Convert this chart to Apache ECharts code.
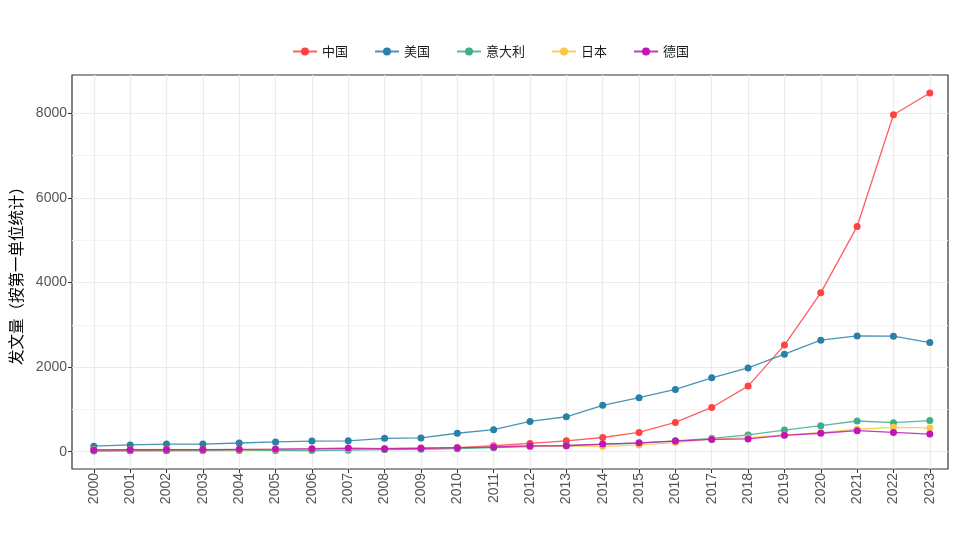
<!DOCTYPE html>
<html><head><meta charset="utf-8">
<script src="https://cdn.jsdelivr.net/npm/echarts@6/dist/echarts.min.js"></script>
<style>html,body{margin:0;padding:0;background:#fff}#c{width:960px;height:540px}</style>
</head><body><div id="c"></div>
<script>
const years = [2000,2001,2002,2003,2004,2005,2006,2007,2008,2009,2010,2011,2012,2013,2014,2015,2016,2017,2018,2019,2020,2021,2022,2023];
const china   = [25,30,30,35,40,45,55,65,55,80,90,140,195,255,335,455,690,1045,1550,2520,3755,5325,7965,8480];
const usa     = [130,160,180,180,205,230,250,255,315,325,435,520,715,825,1095,1275,1470,1745,1980,2305,2635,2735,2730,2580];
const italy   = [15,20,20,25,30,30,25,35,50,55,70,95,120,150,170,200,255,315,395,510,615,725,685,735];
const japan   = [50,45,55,50,45,55,60,70,75,90,100,120,130,135,120,160,215,300,330,395,450,530,575,560];
const germany = [40,45,50,50,55,60,70,85,70,80,95,110,135,140,180,210,250,290,300,385,435,495,455,415];
const seriesNames = ['中国','美国','意大利','日本','德国'];
const seriesColors = ['#FF4343','#2A81A8','#3DAE8A','#FBC545','#C016B8'];
const seriesData = [china, usa, italy, japan, germany];
const yMajor = [0,2000,4000,6000,8000];
const yMinor = [1000,3000,5000,7000];

const chart = echarts.init(document.getElementById('c'));
const series = seriesNames.map((n,i)=>({
  name:n, type:'line', yAxisIndex:0,
  data: years.map((y,k)=>[y, seriesData[i][k]]),
  symbol:'circle', symbolSize:7,
  itemStyle:{color:seriesColors[i]},
  lineStyle:{width:1.3, color:seriesColors[i], opacity:0.85},
  z: 2+i
}));
chart.setOption({
  animation:false,
  backgroundColor:'#fff',
  legend:{
    data:seriesNames, left:287, top:40, itemGap:26, itemWidth:24, itemHeight:10,
    textStyle:{fontFamily:'Noto Sans CJK SC', fontSize:13, color:'#1a1a1a'}
  },
  grid:{left:72, right:12, top:75, bottom:71, show:true, borderColor:'#333', borderWidth:1.2, containLabel:false},
  xAxis:{
    type:'value', min:1999.4, max:2023.5,
    axisLine:{show:false, onZero:false},
    axisTick:{show:true, length:4, lineStyle:{color:'#333'}, customValues:years},
    axisLabel:{rotate:90, color:'#555', fontSize:14, fontFamily:'Liberation Sans', margin:4, customValues:years, formatter:v=>String(v)},
    splitLine:{show:true, lineStyle:{color:'#ebebeb', width:1.2}}
  },
  yAxis:[{
    type:'value', min:-410, max:8905, position:'left',
    name:'发文量（按第一单位统计）', nameLocation:'middle', nameGap:48,
    nameTextStyle:{fontFamily:'Noto Sans CJK SC', fontSize:15.5, color:'#000'},
    axisLine:{show:false, onZero:false},
    axisTick:{show:true, length:4, lineStyle:{color:'#333'}, customValues:yMajor},
    axisLabel:{color:'#555', fontSize:14, fontFamily:'Liberation Sans', margin:5, customValues:yMajor, formatter:v=>String(v)},
    splitLine:{show:true, lineStyle:{color:'#ebebeb', width:1.2}}
  },{
    type:'value', min:-410, max:8905, position:'left',
    axisLine:{show:false, onZero:false},
    axisTick:{show:false, customValues:yMinor},
    axisLabel:{show:false, customValues:yMinor},
    splitLine:{show:true, lineStyle:{color:'#f4f4f4', width:1}}
  }],
  series: series
});
</script></body></html>
